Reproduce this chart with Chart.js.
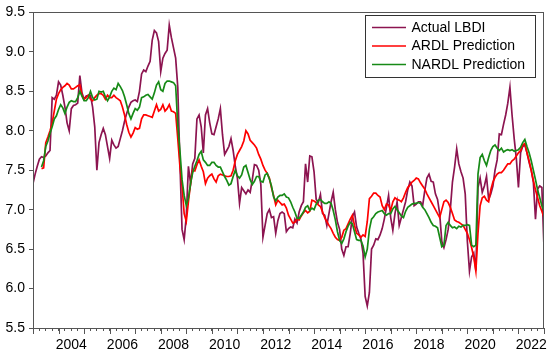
<!DOCTYPE html>
<html>
<head>
<meta charset="utf-8">
<script src="https://cdn.jsdelivr.net/npm/chart.js@4.4.1/dist/chart.umd.min.js"></script>
<style>
  html, body { margin: 0; padding: 0; background: #fff; }
</style>
</head>
<body>
<canvas id="lbdiChart" width="550" height="355"></canvas>
<script>
// monthly series, first value = Jan 2003, last = Jan 2023
const startYear = 2003;
const yearLabels = ['2004', '2006', '2008', '2010', '2012', '2014', '2016', '2018', '2020', '2022'];
const seriesNames = ['Actual LBDI', 'ARDL Prediction', 'NARDL Prediction'];

const actualLBDI = [
  7.33, 7.45, 7.55, 7.64, 7.67, 7.66, 7.68, 7.72, 7.75, 8.42, 8.40, 8.45, // 2003
  8.62, 8.58, 8.45, 8.30, 8.10, 8.00, 8.28, 8.32, 8.33, 8.35, 8.70, 8.48, // 2004
  8.40, 8.44, 8.45, 8.45, 8.30, 8.05, 7.50, 7.85, 7.95, 8.03, 7.95, 7.80, // 2005
  7.65, 7.88, 7.82, 7.78, 7.80, 7.90, 8.00, 8.12, 8.22, 8.30, 8.36, 8.38, // 2006
  8.39, 8.37, 8.50, 8.72, 8.77, 8.75, 8.82, 8.88, 9.15, 9.27, 9.24, 9.13, // 2007
  8.75, 8.92, 8.98, 9.02, 9.34, 9.18, 9.05, 8.92, 8.55, 7.60, 6.75, 6.62, // 2008
  6.92, 7.55, 7.33, 7.58, 7.65, 8.15, 8.20, 8.05, 7.72, 8.20, 8.28, 8.10, // 2009
  7.96, 7.95, 8.05, 8.15, 8.28, 7.95, 7.70, 7.75, 7.80, 7.90, 7.75, 7.55, // 2010
  7.40, 7.08, 7.28, 7.24, 7.20, 7.25, 7.22, 7.38, 7.57, 7.56, 7.50, 7.32, // 2011
  6.65, 6.80, 6.95, 7.00, 6.90, 6.91, 6.70, 6.86, 6.95, 6.97, 6.95, 6.72, // 2012
  6.76, 6.78, 6.77, 6.88, 6.83, 6.97, 7.05, 7.10, 7.58, 7.35, 7.68, 7.67, // 2013
  7.48, 7.13, 7.09, 7.19, 6.95, 6.93, 6.80, 6.95, 7.10, 7.22, 7.00, 6.84, // 2014
  6.75, 6.50, 6.42, 6.53, 6.53, 6.70, 6.91, 6.97, 6.78, 6.70, 6.63, 6.45, // 2015
  5.90, 5.78, 5.95, 6.50, 6.55, 6.63, 6.62, 6.68, 6.76, 6.88, 7.03, 7.18, // 2016
  6.90, 6.74, 6.95, 7.10, 6.80, 6.90, 7.00, 7.10, 7.25, 7.35, 7.30, 7.05, // 2017
  7.07, 7.10, 7.10, 7.05, 7.24, 7.40, 7.45, 7.36, 7.35, 7.20, 7.13, 6.95, // 2018
  6.60, 6.52, 6.62, 6.75, 7.00, 7.35, 7.54, 7.77, 7.58, 7.48, 7.40, 7.20, // 2019
  6.60, 6.22, 6.40, 6.45, 6.23, 7.28, 7.40, 7.22, 7.30, 7.42, 7.13, 7.20, // 2020
  7.30, 7.50, 7.63, 7.96, 7.95, 8.08, 8.20, 8.35, 8.55, 8.20, 7.90, 7.65, // 2021
  7.28, 7.72, 7.80, 7.82, 7.72, 7.60, 7.50, 7.35, 6.88, 7.26, 7.30, 7.28, // 2022
  6.52                                                                    // 2023
];

const ardlPrediction = [
  null, null, null, null, 7.52, 7.53, 7.85, 7.92, 8.00, 8.10, 8.25, 8.40,
  8.47, 8.52, 8.55, 8.57, 8.60, 8.58, 8.53, 8.53, 8.55, 8.57, 8.58, 8.45,
  8.40, 8.42, 8.45, 8.40, 8.38, 8.42, 8.45, 8.47, 8.47, 8.45, 8.40, 8.45,
  8.42, 8.42, 8.45, 8.42, 8.40, 8.38, 8.30, 8.20, 8.08, 7.98, 7.92, 7.97,
  8.04, 8.02, 8.03, 8.15, 8.20, 8.20, 8.19, 8.18, 8.17, 8.25, 8.33, 8.25,
  8.27, 8.33, 8.25, 8.28, 8.33, 8.25, 8.24, 8.22, 7.90, 7.55, 7.30, 6.95,
  6.85, 7.10, 7.33, 7.50, 7.49, 7.57, 7.63, 7.55, 7.48, 7.33, 7.40, 7.43,
  7.45, 7.39, 7.35, 7.43, 7.45, 7.44, 7.43, 7.42, 7.42, 7.43, 7.50, 7.62,
  7.70, 7.75, 7.80, 7.87, 8.00, 7.96, 7.88, 7.85, 7.82, 7.78, 7.70, 7.64,
  7.56, 7.50, 7.46, 7.40, 7.28, 7.18, 7.06, 7.12, 7.09, 7.06, 7.07, 7.02,
  6.93, 6.88, 6.83, 6.84, 6.88, 6.87, 6.92, 6.96, 6.99, 6.96, 6.98, 7.12,
  7.11, 7.09, 7.06, 7.04, 6.97, 6.90, 6.85, 6.80, 6.76, 6.70, 6.65, 6.62,
  6.61, 6.65, 6.74, 6.76, 6.82, 6.88, 6.93, 6.80, 6.70, 6.68, 6.65, 6.68,
  6.66, 6.85, 7.14, 7.17, 7.21, 7.21, 7.18, 7.16, 7.05, 7.00, 7.07, 7.06,
  6.99, 7.10, 7.15, 7.13, 7.12, 7.10, 7.15, 7.22, 7.28, 7.31, 7.35, 7.37,
  7.40, 7.39, 7.34, 7.30, 7.26, 7.20, 7.15, 7.10, 7.05, 7.00, 6.95, 6.90,
  7.00, 7.10, 7.12, 7.09, 7.03, 6.95, 6.87, 6.85, 6.84, 6.82, 6.80, 6.75,
  6.70, 6.62, 6.52, 6.40, 6.22, 6.70, 7.05, 7.15, 7.17, 7.12, 7.10, 7.25,
  7.35, 7.41, 7.45, 7.47, 7.47, 7.50, 7.54, 7.58, 7.58, 7.62, 7.64, 7.68,
  7.72, 7.75, 7.82, 7.84, 7.72, 7.62, 7.50, 7.37, 7.25, 7.15, 7.05, 6.98,
  6.90
];

const nardlPrediction = [
  null, null, null, null, 7.54, 7.62, 7.80, 7.87, 7.97, 8.05, 8.15, 8.19,
  8.27, 8.33, 8.29, 8.22, 8.30, 8.36, 8.38, 8.37, 8.37, 8.42, 8.50, 8.44,
  8.38, 8.38, 8.42, 8.50, 8.42, 8.39, 8.40, 8.50, 8.49, 8.50, 8.43, 8.38,
  8.43, 8.50, 8.54, 8.52, 8.60, 8.56, 8.51, 8.43, 8.33, 8.22, 8.15, 8.22,
  8.28, 8.26, 8.30, 8.42, 8.43, 8.45, 8.46, 8.43, 8.40, 8.48, 8.58, 8.62,
  8.52, 8.50, 8.60, 8.63, 8.63, 8.62, 8.61, 8.57, 8.07, 7.75, 7.38, 7.18,
  7.05, 7.15, 7.33, 7.47, 7.55, 7.62, 7.70, 7.74, 7.63, 7.60, 7.56, 7.56,
  7.60, 7.60, 7.56, 7.54, 7.54, 7.48, 7.42, 7.37, 7.31, 7.33, 7.42, 7.50,
  7.43, 7.40, 7.44, 7.54, 7.56, 7.47, 7.38, 7.32, 7.36, 7.42, 7.42, 7.36,
  7.35, 7.44, 7.46, 7.39, 7.30, 7.16, 7.11, 7.16, 7.18, 7.18, 7.20, 7.16,
  7.15, 7.10, 7.03, 6.97, 6.89, 6.89, 6.93, 6.97, 7.03, 7.05, 6.99, 7.02,
  7.00, 7.07, 7.12, 7.13, 7.10, 7.08, 7.08, 7.10, 7.08, 6.99, 6.87, 6.72,
  6.61, 6.57, 6.63, 6.72, 6.79, 6.84, 6.82, 6.72, 6.62, 6.61, 6.61, 6.54,
  6.40, 6.50, 6.75, 6.88, 6.91, 6.95, 6.97, 6.98, 6.99, 6.95, 6.93, 6.95,
  6.95, 7.01, 7.04, 7.00, 6.96, 6.92, 6.90, 6.98, 7.03, 7.05, 7.07, 7.08,
  7.08, 7.09, 7.08, 7.03, 7.00, 6.95, 6.90, 6.84, 6.80, 6.79, 6.77, 6.65,
  6.53, 6.55, 6.80, 6.84, 6.80, 6.77, 6.78, 6.76, 6.79, 6.78, 6.80, 6.80,
  6.81, 6.80, 6.55, 6.53, 6.55, 7.45, 7.66, 7.70, 7.62, 7.56, 7.66, 7.75,
  7.80, 7.82, 7.78, 7.75, 7.78, 7.73, 7.75, 7.76, 7.75, 7.76, 7.74, 7.75,
  7.76, 7.79, 7.85, 7.89, 7.80, 7.72, 7.62, 7.50, 7.38, 7.25, 7.15, 7.05,
  6.98
];

const lineColors = ['#8c1450', '#ff0000', '#178a17'];
const axisFont = { family: '"Liberation Sans", Arial, sans-serif', size: 14 };
const lastMonth = actualLBDI.length - 1;

const toPoints = arr => arr.map((v, i) => ({ x: i, y: v }));

// frame, longer year ticks and the boxed legend (EViews style)
const eviewsDecor = {
  id: 'eviewsDecor',
  afterDraw(chart) {
    const { ctx, chartArea: a, scales: { x } } = chart;
    ctx.save();
    ctx.strokeStyle = '#555';
    ctx.lineWidth = 1;
    ctx.strokeRect(Math.round(a.left) + 0.5, Math.round(a.top) + 0.5,
      Math.round(a.right - a.left) - 1, Math.round(a.bottom - a.top));

    for (let m = 0; m <= lastMonth; m += 12) {
      const px = Math.round(x.getPixelForValue(m)) + 0.5;
      ctx.beginPath();
      ctx.moveTo(px, a.bottom);
      ctx.lineTo(px, a.bottom + 6);
      ctx.stroke();
    }

    // legend box
    const bx = 365.5, by = 15.5, bw = 170, bh = 62;
    ctx.strokeStyle = '#333';
    ctx.strokeRect(bx, by, bw, bh);
    ctx.font = '14px "Liberation Sans", Arial, sans-serif';
    ctx.textBaseline = 'middle';
    ctx.fillStyle = '#000';
    seriesNames.forEach((name, i) => {
      const ly = 27.5 + i * 18.5;
      ctx.strokeStyle = lineColors[i];
      ctx.lineWidth = 1.6;
      ctx.beginPath();
      ctx.moveTo(372, ly);
      ctx.lineTo(406, ly);
      ctx.stroke();
      ctx.fillText(name, 411.5, ly + 0.5);
    });
    ctx.restore();
  }
};

new Chart(document.getElementById('lbdiChart'), {
  type: 'line',
  data: {
    datasets: [
      { label: seriesNames[0], data: toPoints(actualLBDI), borderColor: lineColors[0], order: 2 },
      { label: seriesNames[1], data: toPoints(ardlPrediction), borderColor: lineColors[1], order: 1 },
      { label: seriesNames[2], data: toPoints(nardlPrediction), borderColor: lineColors[2], order: 0 }
    ]
  },
  options: {
    responsive: false,
    animation: false,
    devicePixelRatio: 1,
    layout: { padding: { top: 11, right: 5.5, left: 0, bottom: 0 } },
    elements: {
      point: { radius: 0 },
      line: { borderWidth: 1.7, tension: 0, fill: false }
    },
    plugins: {
      legend: { display: false },
      tooltip: { enabled: false }
    },
    scales: {
      x: {
        type: 'linear',
        min: 0,
        max: lastMonth,
        afterBuildTicks: scale => {
          const t = [];
          for (let m = 0; m <= lastMonth; m += 3) t.push({ value: m });
          scale.ticks = t;
        },
        afterFit: scale => { scale.height = 27; },
        grid: { display: true, drawOnChartArea: false, drawTicks: true, tickLength: 3, color: '#555' },
        border: { display: false },
        ticks: {
          autoSkip: false,
          maxRotation: 0,
          padding: 6,
          color: '#000',
          font: axisFont,
          callback: value => {
            if (value % 12 !== 6) return '';
            const yr = String(startYear + Math.floor(value / 12));
            return yearLabels.includes(yr) ? yr : '';
          }
        }
      },
      y: {
        min: 5.5,
        max: 9.5,
        afterFit: scale => { scale.width = 33; },
        grid: { display: true, drawOnChartArea: false, drawTicks: true, tickLength: 4, color: '#555' },
        border: { display: false },
        ticks: {
          stepSize: 0.5,
          padding: 4,
          color: '#000',
          font: axisFont,
          callback: v => v.toFixed(1)
        }
      }
    }
  },
  plugins: [eviewsDecor]
});
</script>
</body>
</html>
